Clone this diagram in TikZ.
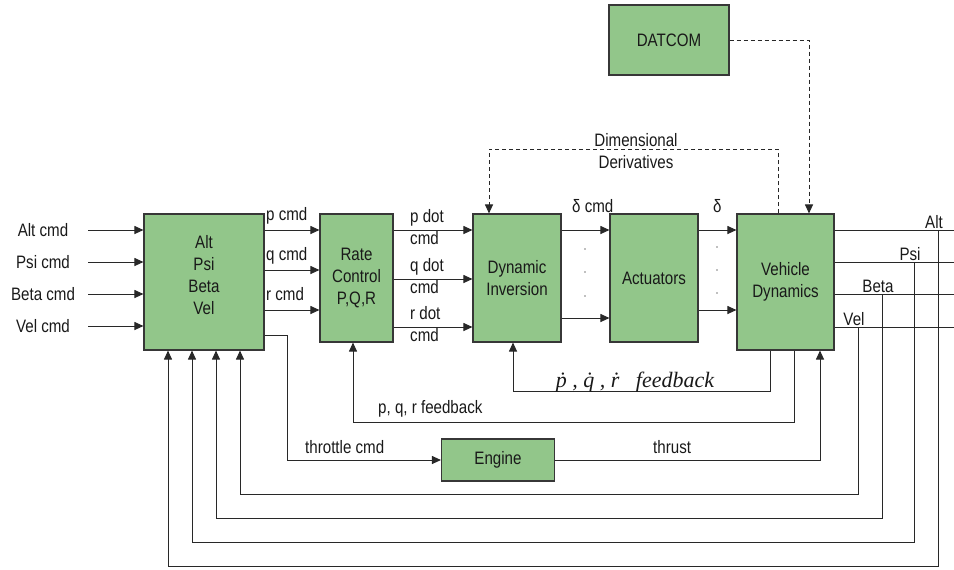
\documentclass[tikz,border=0pt]{standalone}
\usepackage{fontspec}
\setmainfont{Liberation Sans}[FakeStretch=0.84]
\newfontfamily\fbfont{Liberation Serif}
\usetikzlibrary{arrows.meta,positioning}
\definecolor{boxgreen}{RGB}{146,198,138}
\definecolor{edgegray}{RGB}{55,55,55}
\definecolor{linegray}{RGB}{40,40,40}
\begin{document}
\begin{tikzpicture}[
    x=1pt, y=-1pt,
    every node/.style={font=\fontsize{18}{22}\selectfont, text=black!90},
    block/.style={draw=edgegray, fill=boxgreen, line width=1.1pt, align=center, inner sep=0pt},
    sig/.style={draw=linegray, line width=1pt},
    arr/.style={sig, -{Triangle[length=9pt,width=8pt]}},
    dsh/.style={arr, dash pattern=on 4pt off 3pt},
    lbl/.style={inner sep=0pt, anchor=base west}
]
\useasboundingbox (0,0) rectangle (954,570);

\node[block, minimum width=120pt, minimum height=136pt] (ctrl) at (204,282) {};
\node[align=center, inner sep=0pt] (ctrltxt) at ([yshift=6.5pt]ctrl.center) {Alt\\Psi\\Beta\\Vel};
\node[block, minimum width=73pt, minimum height=128pt] (rate) at (356.5,278) {Rate\\Control\\P,Q,R};
\node[block, minimum width=88pt, minimum height=128pt] (dyninv) at (517,278) {Dynamic\\Inversion};
\node[block, minimum width=88pt, minimum height=128pt] (act) at (654,278) {Actuators};
\node[block, minimum width=97pt, minimum height=136pt] (veh) at (785.5,282) {Vehicle\\Dynamics};
\node[block, minimum width=120pt, minimum height=70pt] (datcom) at (669,40) {DATCOM};
\node[block, minimum width=113pt, minimum height=42pt] (engine) at (498,460) {Engine};

\foreach \y/\txt [count=\i] in {230/Alt cmd, 262/Psi cmd, 294/Beta cmd, 326/Vel cmd}{
    \node (in\i) at (43,\y) {\txt};
    \coordinate (ins\i) at (88,\y);
    \draw[arr] (ins\i) -- (ins\i -| ctrl.west);
}

\foreach \y/\txt in {230/p, 270/q, 310/r}{
    \draw[arr] (ctrl.east |- 0,\y) -- (rate.west |- 0,\y);
    \node[lbl] (cmd\txt) at (266,\y-10) {\txt\ cmd};
}

\foreach \y/\txt in {230/p, 279/q, 327/r}{
    \draw[arr] (rate.east |- 0,\y) -- (dyninv.west |- 0,\y);
    \node[align=left, anchor=west, inner sep=0pt] (dot\txt) at (410,\y-3) {\txt\ dot\\cmd};
}

\draw[arr] (dyninv.east |- 0,230) -- (act.west |- 0,230);
\draw[arr] (dyninv.east |- 0,318) -- (act.west |- 0,318);
\draw[arr] (act.east |- 0,230) -- (veh.west |- 0,230);
\draw[arr] (act.east |- 0,310) -- (veh.west |- 0,310);
\node[lbl] (dcmd) at (572,212) {δ cmd};
\node[lbl] (dlt) at (713,212) {δ};
\foreach \y in {249,272,296} \fill[gray] (585,\y) circle (0.8pt);
\foreach \y in {247,270,293} \fill[gray] (717,\y) circle (0.8pt);

\foreach \y/\x/\yb/\dx/\txt [count=\i] in {230/938/566/-36/Alt, 262/914/542/-12/Psi, 294/882/518/12/Beta, 327/858/494/36/Vel}{
    \coordinate (out\i) at (954,\y);
    \coordinate (tap\i) at (\x,\y);
    \draw[sig] (veh.east |- out\i) -- (out\i);
    \node[anchor=base, inner sep=0pt] (outl\i) at (\x-4,\y-2) {\txt};
    \draw[arr] (tap\i) -- ++(0,\yb-\y) -| ([xshift=\dx pt]ctrl.south);
}

\draw[arr] (ctrl.east |- 0,335) -- (287,335) |- (engine.west);
\node[lbl] (thrl) at (305,453) {throttle cmd};
\draw[arr] (engine.east) -| ([xshift=34.5pt]veh.south);
\node[lbl] (thrustl) at (653,453) {thrust};

\draw[arr] ([xshift=8.5pt]veh.south) -- ++(0,72) -| ([xshift=-3.5pt]rate.south);
\node[lbl] (pqrl) at (378,413) {p, q, r feedback};
\draw[arr] ([xshift=-15.5pt]veh.south) -- ++(0,41) -| ([xshift=-4pt]dyninv.south);
\node[anchor=base, inner sep=0pt, font=\fbfont\itshape\fontsize{22}{26}\selectfont] (dotfb) at (635,387) {ṗ , q̇ , ṙ \ \ feedback};

\draw[dsh] ([xshift=-7.5pt]veh.north) -- ++(0,-64) -| ([xshift=-28pt]dyninv.north);
\node[align=center, inner sep=0pt] (dimd) at (636,151) {Dimensional\\Derivatives};
\draw[dsh] (datcom.east) -| ([xshift=23.5pt]veh.north);
\end{tikzpicture}
\end{document}
